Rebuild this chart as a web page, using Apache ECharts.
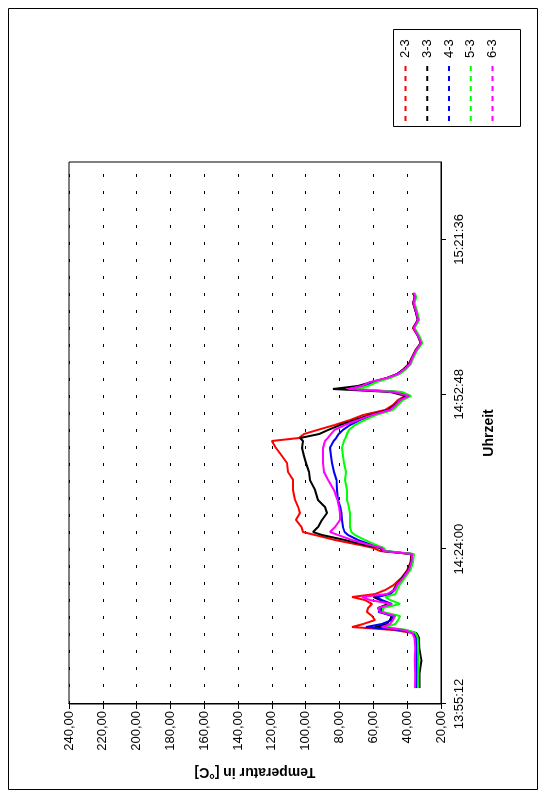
<!DOCTYPE html>
<html>
<head>
<meta charset="utf-8">
<script src="https://cdn.jsdelivr.net/npm/echarts/dist/echarts.min.js"></script>
<style>
  html, body { margin: 0; padding: 0; background: #fff; overflow: hidden; width: 547px; height: 801px; }
  /* the chart is laid out in landscape and turned a quarter turn counter-clockwise onto the page */
  #chart { position: absolute; left: 0; top: 0; width: 801px; height: 547px;
           transform-origin: 0 0; transform: translateY(801px) rotate(-90deg); }
</style>
</head>
<body>
<div id="chart"></div>
<script>
// Messzeitpunkte
const zeit = [
  '13:58:10','14:00:36','14:03:23','14:05:37','14:07:28','14:08:24','14:08:58','14:09:31','14:10:05','14:10:49',
  '14:11:34','14:12:19','14:13:03','14:13:48','14:14:32','14:15:06','14:15:39','14:16:24','14:17:20','14:18:38',
  '14:20:07','14:21:37','14:23:06','14:23:39','14:24:13','14:24:46','14:25:42','14:26:38','14:27:11','14:28:07',
  '14:29:25','14:30:43','14:31:50','14:33:08','14:35:00','14:36:52','14:38:21','14:40:01','14:41:19','14:42:49',
  '14:44:07','14:44:40','14:45:25','14:46:10','14:47:05','14:48:01','14:48:57','14:49:53','14:50:49','14:51:44',
  '14:52:29','14:53:14','14:53:47','14:54:21','14:55:05','14:55:50','14:56:34','14:57:30','14:58:26','14:59:33',
  '15:01:02','15:02:20','15:03:39','15:05:08','15:06:37','15:08:06','15:09:47','15:10:54','15:11:38'
];

// Temperaturen je Messstelle in °C
const t23 = [
  34.8,34.9,34.8,34.7,35.0,36.5,48.0,72.6,66.0,59.0,
  60.8,63.8,63.2,60.8,65.0,72.6,59.0,53.0,48.0,43.5,
  40.0,38.0,37.5,56.0,60.0,67.9,82.7,94.5,101.6,102.5,
  105.8,103.4,104.5,106.3,107.5,107.5,110.5,111.1,114.0,117.6,
  120.0,104.0,101.0,93.0,83.0,73.8,66.0,53.1,48.4,45.4,
  41.3,45.0,72.6,67.0,60.0,52.0,46.0,42.0,39.0,37.2,
  34.8,31.8,33.6,36.6,33.6,34.8,36.6,35.4,36.6
];
const t33 = [
  32.7,32.8,31.6,32.9,33.0,34.5,42.0,59.0,52.0,50.2,
  49.0,55.0,57.3,51.3,56.0,60.0,51.0,48.0,46.5,43.0,
  39.5,37.8,37.5,54.5,56.0,65.0,76.8,90.4,95.7,92.7,
  90.4,87.4,88.6,92.7,94.5,97.5,98.1,99.8,101.0,102.2,
  101.6,103.4,92.0,86.8,79.7,70.9,62.0,51.3,47.2,44.2,
  40.7,50.0,83.9,69.0,61.0,52.0,46.0,42.0,39.0,37.4,
  35.0,32.0,33.7,36.4,33.8,34.9,36.5,35.5,36.4
];
const t43 = [
  34.5,34.4,34.5,34.3,34.6,36.0,44.0,64.4,55.0,49.0,
  48.4,57.0,54.9,49.0,55.0,58.0,50.0,47.5,46.0,42.5,
  39.0,37.2,37.0,53.0,54.3,60.8,69.1,75.0,77.0,78.0,
  78.6,78.8,79.5,80.9,81.5,81.8,83.3,84.5,85.1,85.7,
  83.5,82.0,80.5,78.0,73.8,67.9,60.2,50.2,46.6,43.7,
  39.5,46.0,73.8,66.0,60.0,51.0,45.5,41.5,38.5,36.9,
  34.5,31.6,33.3,36.0,33.4,34.5,36.2,35.1,36.2
];
const t53 = [
  33.4,33.5,33.3,33.6,33.7,35.0,40.0,53.0,47.0,45.4,
  44.2,54.3,54.3,44.2,50.0,53.0,47.0,46.0,44.5,41.5,
  38.0,36.5,36.0,52.5,53.7,58.4,65.0,70.9,73.0,73.8,
  73.8,73.8,74.5,75.6,75.6,76.8,76.2,77.4,78.0,78.6,
  77.4,76.5,75.6,74.4,70.9,65.0,58.4,48.4,45.4,42.5,
  37.7,43.0,70.9,63.0,58.0,50.0,44.5,40.5,37.8,36.3,
  34.0,31.0,32.8,35.6,32.9,34.0,35.6,34.6,35.6
];
const t63 = [
  35.4,35.3,35.5,35.2,35.6,37.0,42.0,55.0,50.0,48.4,
  47.2,56.0,57.3,49.0,62.0,66.7,52.0,47.5,46.0,42.5,
  39.0,37.5,37.0,54.0,54.9,62.0,72.6,80.9,85.6,82.7,
  79.7,79.7,80.3,81.2,83.3,86.8,89.2,89.8,89.8,89.8,
  88.6,87.0,85.0,83.0,76.8,69.1,60.8,50.2,46.6,44.2,
  38.9,48.0,75.0,66.7,62.0,52.0,45.5,41.5,38.5,37.0,
  34.7,31.7,33.5,36.2,33.5,34.6,36.3,35.2,36.2
];

const reihen = ['2-3', '3-3', '4-3', '5-3', '6-3'];
const farben = ['#ff0000', '#000000', '#0000ff', '#00ff00', '#ff00ff'];
const werte = [t23, t33, t43, t53, t63];

// Beschriftete Zeitpunkte der Zeitachse
const zeitTicks = ['13:55:12', '14:24:00', '14:52:48', '15:21:36'];
const zeitMin = '13:55:12';
const zeitMax = '15:36:00';

function sek(s) {
  const p = s.split(':').map(Number);
  return p[0] * 3600 + p[1] * 60 + p[2];
}
function hms(v) {
  v = Math.round(v);
  const h = Math.floor(v / 3600), m = Math.floor((v % 3600) / 60), s = v % 60;
  return [h, m, s].map(n => String(n).padStart(2, '0')).join(':');
}

const schrift = 'Liberation Sans, Arial, sans-serif';
const chart = echarts.init(document.getElementById('chart'), null, { width: 801, height: 547 });

chart.setOption({
  animation: false,
  backgroundColor: '#ffffff',
  textStyle: { fontFamily: schrift, color: '#000' },
  grid: { left: 97, right: 162, top: 69, bottom: 106, show: true, borderColor: '#000', borderWidth: 1 },
  xAxis: {
    type: 'value',
    min: sek(zeitMin),
    max: sek(zeitMax),
    interval: 1728,
    name: 'Uhrzeit',
    nameLocation: 'middle',
    nameGap: 41,
    nameTextStyle: { fontFamily: schrift, fontWeight: 'bold', fontSize: 14, color: '#000' },
    axisLine: { show: true, lineStyle: { color: '#000', width: 1 } },
    axisTick: { show: true, length: 5, customValues: zeitTicks.map(sek), lineStyle: { color: '#000' } },
    axisLabel: { customValues: zeitTicks.map(sek), formatter: hms, fontFamily: schrift, fontSize: 13, color: '#000', margin: 12 },
    splitLine: { show: false }
  },
  yAxis: {
    type: 'value',
    min: 20,
    max: 240,
    interval: 20,
    name: 'Temperatur in [°C]',
    nameLocation: 'middle',
    nameRotate: 90,
    nameGap: 61,
    nameTextStyle: { fontFamily: schrift, fontWeight: 'bold', fontSize: 14, color: '#000' },
    axisLine: { show: true, lineStyle: { color: '#000', width: 1 } },
    axisTick: { show: true, length: 5, lineStyle: { color: '#000' } },
    axisLabel: { formatter: v => v.toFixed(2).replace('.', ','), fontFamily: schrift, fontSize: 13, color: '#000', margin: 7 },
    splitLine: { show: true, lineStyle: { color: '#000', width: 1, type: [3, 14] } }
  },
  legend: {
    orient: 'vertical',
    left: 679,
    top: 399,
    padding: 0,
    itemWidth: 58,
    itemHeight: 14,
    itemGap: 8.75,
    data: reihen,
    textStyle: { fontFamily: schrift, fontSize: 13, color: '#000' },
    itemStyle: { opacity: 0 },
    lineStyle: { type: [5, 5], width: 2 }
  },
  graphic: [
    { type: 'rect', silent: true, z: -1, shape: { x: 11.5, y: 8.5, width: 781, height: 529 },
      style: { fill: null, stroke: '#000', lineWidth: 1 } },
    { type: 'rect', silent: true, shape: { x: 674.5, y: 393.5, width: 97, height: 127 },
      style: { fill: null, stroke: '#000', lineWidth: 1 } }
  ],
  series: reihen.map((name, k) => ({
    name: name,
    type: 'line',
    symbol: 'none',
    showSymbol: false,
    color: farben[k],
    lineStyle: { color: farben[k], width: 2 },
    data: zeit.map((z, i) => [sek(z), werte[k][i]])
  }))
});
</script>
</body>
</html>
